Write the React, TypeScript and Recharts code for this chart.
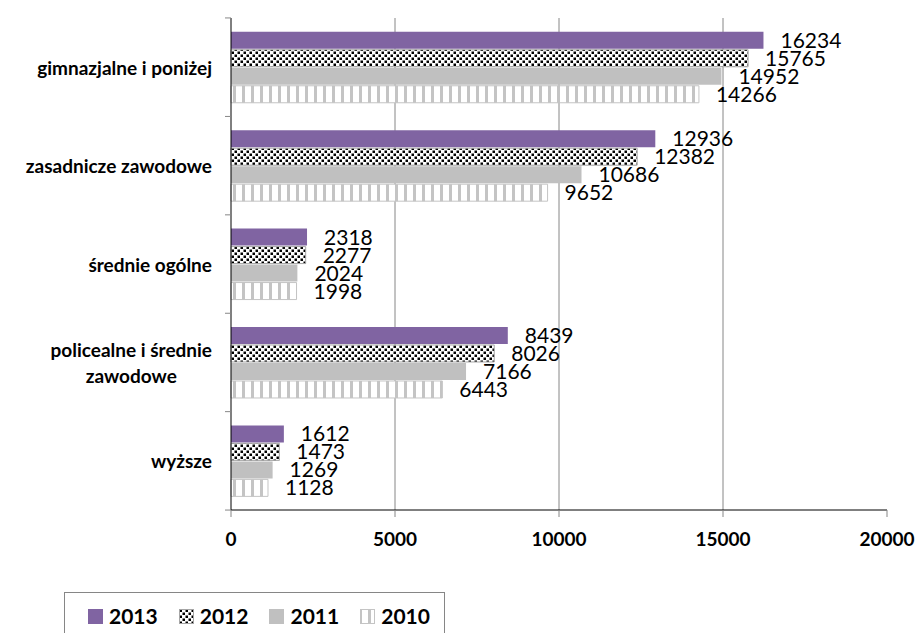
import { useLayoutEffect, useRef, useState } from "react";
import { BarChart, Bar, XAxis, YAxis, CartesianGrid, LabelList } from "recharts";

const categories = [
  "gimnazjalne i poniżej",
  "zasadnicze zawodowe",
  "średnie ogólne",
  "policealne i średnie zawodowe",
  "wyższe",
];
// how each category label wraps on the axis
const categoryLines = [
  ["gimnazjalne i poniżej"],
  ["zasadnicze zawodowe"],
  ["średnie ogólne"],
  ["policealne i średnie", "zawodowe"],
  ["wyższe"],
];

const v2013 = [16234, 12936, 2318, 8439, 1612];
const v2012 = [15765, 12382, 2277, 8026, 1473];
const v2011 = [14952, 10686, 2024, 7166, 1269];
const v2010 = [14266, 9652, 1998, 6443, 1128];

const xMax = 20000;
const xTicks = [0, 5000, 10000, 15000, 20000];
const gridValues = [5000, 10000, 15000];

const data = categories.map((name, i) => ({
  name,
  y2013: v2013[i],
  y2012: v2012[i],
  y2011: v2011[i],
  y2010: v2010[i],
}));

const series = [
  { key: "y2013", label: "2013", fill: "#8064a2", stroke: "none" },
  { key: "y2012", label: "2012", fill: "url(#checker)", stroke: "#a6a6a6" },
  { key: "y2011", label: "2011", fill: "#c0c0c0", stroke: "none" },
  { key: "y2010", label: "2010", fill: "url(#stripes)", stroke: "#c4c4c4" },
];

const FONT = "Lato, 'Open Sans', sans-serif";
const HALF_BAND = 49.25;

function CategoryTick(props: any) {
  const { x, y, payload, index } = props;
  const lines = categoryLines[categories.indexOf(payload.value)] || [payload.value];
  const ref = useRef<SVGTextElement>(null);
  const [w, setW] = useState(0);
  useLayoutEffect(() => {
    if (ref.current) setW(ref.current.getComputedTextLength());
  }, []);
  return (
    <g>
      {lines.map((line: string, k: number) => (
        <text
          key={k}
          ref={k === 0 ? ref : undefined}
          x={k === 0 ? x : x - w / 2}
          y={y + (k - (lines.length - 1) / 2) * 26}
          textAnchor={k === 0 ? "end" : "middle"}
          dominantBaseline="central"
          fontFamily={FONT}
          fontWeight="bold"
          fontSize={19}
          fill="#000"
        >
          {line}
        </text>
      ))}
      <line x1={x + 13} x2={x + 19} y1={y + HALF_BAND} y2={y + HALF_BAND} stroke="#868686" />
      {index === 0 && (
        <line x1={x + 13} x2={x + 19} y1={y - HALF_BAND} y2={y - HALF_BAND} stroke="#868686" />
      )}
    </g>
  );
}

function gridXs({ xAxis, offset }: any) {
  const sc = xAxis && xAxis.scale;
  if (typeof sc === "function") return gridValues.map((v) => sc(v));
  if (sc && typeof sc.map === "function") return gridValues.map((v) => sc.map(v));
  return gridValues.map((v) => offset.left + (offset.width * v) / xMax);
}

function Swatch({ fill, stroke }: { fill: string; stroke: string }) {
  return (
    <svg width={15} height={15} style={{ display: "block" }}>
      <rect x={0.5} y={0.5} width={14} height={14} fill={fill} stroke={stroke === "none" ? fill : stroke} />
    </svg>
  );
}

export default function App() {
  return (
    <div
      style={{
        position: "absolute",
        left: 0,
        top: 0,
        width: 917,
        height: 633,
        background: "#fff",
        overflow: "hidden",
        fontFamily: FONT,
      }}
    >
      <BarChart
        width={917}
        height={560}
        data={data}
        layout="vertical"
        margin={{ top: 18, right: 30, left: 0, bottom: 10 }}
        barCategoryGap="14%"
        barGap={1}
      >
        <defs>
          <pattern id="checker" width={6} height={6} patternUnits="userSpaceOnUse">
            <rect width={6} height={6} fill="#fff" />
            <rect x={0.5} y={0.5} width={2.5} height={2.5} fill="#000" />
            <rect x={3.5} y={3.5} width={2.5} height={2.5} fill="#000" />
          </pattern>
          <pattern id="stripes" width={9} height={9} patternUnits="userSpaceOnUse">
            <rect width={9} height={9} fill="#c4c4c4" />
            <rect x={2} width={6} height={9} fill="#fff" />
          </pattern>
        </defs>
        <CartesianGrid horizontal={false} stroke="#868686" verticalCoordinatesGenerator={gridXs} />
        <XAxis
          type="number"
          domain={[0, xMax]}
          ticks={xTicks}
          interval={0}
          tickSize={7}
          tickMargin={16}
          height={40}
          axisLine={{ stroke: "#000" }}
          tickLine={{ stroke: "#868686" }}
          tick={{ fontFamily: FONT, fontWeight: "bold", fontSize: 19, fill: "#000" }}
        />
        <YAxis
          type="category"
          dataKey="name"
          width={231}
          interval={0}
          tickSize={0}
          tickMargin={19}
          tickLine={false}
          axisLine={{ stroke: "#000" }}
          tick={<CategoryTick />}
        />
        {series.map((s) => (
          <Bar
            key={s.key}
            dataKey={s.key}
            name={s.label}
            fill={s.fill}
            stroke={s.stroke}
            isAnimationActive={false}
          >
            <LabelList
              dataKey={s.key}
              position="right"
              offset={17}
              fontFamily={FONT}
              fontSize={21}
              fill="#000"
            />
          </Bar>
        ))}
      </BarChart>
      <div
        style={{
          position: "absolute",
          left: 64,
          top: 592,
          width: 381,
          height: 60,
          border: "1px solid #868686",
          boxSizing: "border-box",
          display: "flex",
          alignItems: "flex-start",
          paddingTop: 13,
          paddingLeft: 23,
          gap: 21,
        }}
      >
        {series.map((s) => (
          <div key={s.key} style={{ display: "flex", alignItems: "center", gap: 6 }}>
            <Swatch fill={s.fill} stroke={s.stroke} />
            <span style={{ fontWeight: "bold", fontSize: 21, lineHeight: "20px", color: "#000" }}>
              {s.label}
            </span>
          </div>
        ))}
      </div>
    </div>
  );
}
